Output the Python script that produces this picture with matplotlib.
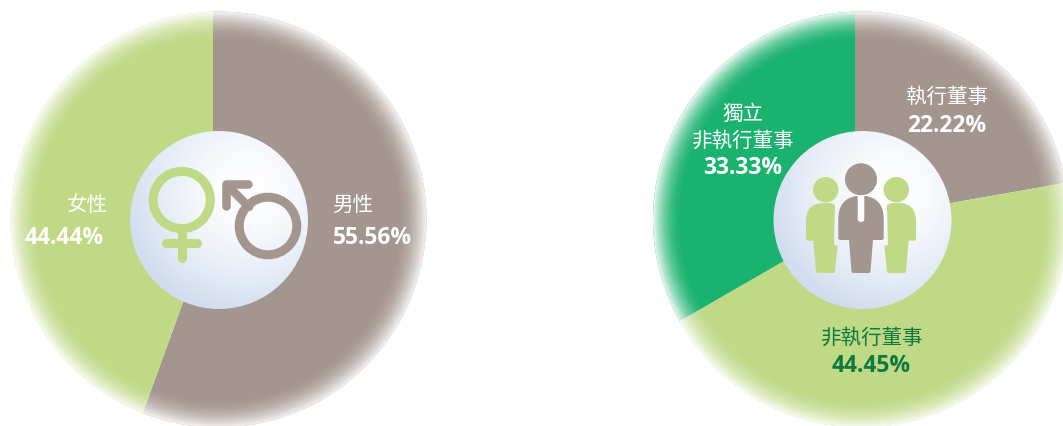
# -*- coding: utf-8 -*-
# 董事會組成: 性別比例 / 董事類別比例 兩個圓餅圖
import numpy as np
import matplotlib
matplotlib.use('Agg')
import matplotlib.pyplot as plt
from matplotlib.patches import Circle, PathPatch
from matplotlib.path import Path

plt.rcParams['font.family'] = ['Noto Sans CJK TC', 'DejaVu Sans']

W, H = 1063, 426

GENDER_LABELS = ['男性', '女性']
GENDER_VALUES = [55.56, 44.44]
ROLE_LABELS = ['執行董事', '非執行董事', '獨立\n非執行董事']
ROLE_VALUES = [22.22, 44.45, 33.33]

GRAY = '#a3968e'
LIGHT = '#bfd985'
GREEN = '#19b26e'
DARK = '#0f7a3f'


def yy(y):
    # 版面以左上角為原點量度, 轉成 axes 座標
    return H - y


fig = plt.figure(figsize=(W / 100, H / 100), dpi=100)
ax = fig.add_axes([0, 0, 1, 1])


def clipped_image(arr, clip):
    im = ax.imshow(arr, extent=(0, W, 0, H), origin='upper', aspect='auto',
                   interpolation='bilinear', zorder=3)
    im.set_clip_path(clip)
    return im


def draw_pie(values, colors, apex, cx, cy, R=208, rim=30):
    # 扇形頂點與外圓圓心略有偏移, 外圓負責裁切
    outline = Circle((cx, yy(cy)), R, transform=ax.transData)
    wedges, _ = ax.pie(values, colors=colors, startangle=90, counterclock=False,
                       center=(apex[0], yy(apex[1])), radius=R + 40, frame=True,
                       wedgeprops=dict(linewidth=0, zorder=2))
    for w in wedges:
        w.set_clip_on(True)
        w.set_clip_path(outline)
    # 外緣向白色漸層
    gx, gy = np.meshgrid(np.arange(W * 2) / 2, np.arange(H * 2) / 2)
    t = np.clip((np.hypot(gx - cx, gy - cy) - (R - rim)) / rim, 0, 1)
    arr = np.ones(gx.shape + (4,))
    arr[..., 3] = 0.9 * t ** 1.9
    clipped_image(arr, outline)


def draw_hub(cx, cy, r=89):
    hub = Circle((cx, yy(cy)), r, transform=ax.transData)
    gx, gy = np.meshgrid(np.arange(W), np.arange(H))
    t = np.clip(np.hypot(gx - (cx + 28), gy - (cy - 30)) / (r * 1.38), 0, 1) ** 1.6
    white = np.array([1.0, 1.0, 1.0])
    blue = np.array([0.82, 0.87, 0.94])
    arr = np.ones(gx.shape + (4,))
    arr[..., :3] = white + (blue - white) * t[..., None]
    clipped_image(arr, hub)


def stroke(xs, ys, color, lw=9):
    ax.plot(xs, [yy(v) for v in ys], color=color, lw=lw * 0.72,
            solid_capstyle='round', solid_joinstyle='round', zorder=5)


def ring(cx, cy, r, color, lw=9):
    ax.add_patch(Circle((cx, yy(cy)), r, fc='none', ec=color, lw=lw * 0.72, zorder=5))


def body(commands, color):
    verts, codes = [], []
    for code, pts in commands:
        for p in pts:
            verts.append((p[0], yy(p[1])))
            codes.append(code)
    verts.append(verts[0])
    codes.append(Path.CLOSEPOLY)
    ax.add_patch(PathPatch(Path(verts, codes), fc=color, ec='none', zorder=5))


M, L, Q = Path.MOVETO, Path.LINETO, Path.CURVE3


def side_person(mirror=None):
    f = (lambda x: x) if mirror is None else (lambda x: 2 * mirror - x)
    ax.add_patch(Circle((f(825.7), yy(189.7)), 12.7, fc=LIGHT, ec='none', zorder=5))
    body([(M, [(f(806), 238.7)]), (L, [(f(806), 221)]),
          (Q, [(f(806), 203), (f(824), 203)]), (L, [(f(830), 203), (f(835), 205), (f(834), 245), (f(837.7), 246), (f(835), 271)]),
          (Q, [(f(834.8), 273), (f(833), 273)]), (L, [(f(818), 273)]),
          (Q, [(f(816), 273), (f(816), 271)]), (L, [(f(813.3), 240.7), (f(808), 240.7)]),
          (Q, [(f(806), 240.7), (f(806), 238.7)])], LIGHT)


def center_person():
    ax.add_patch(Circle((861, yy(179.3)), 16, fc=GRAY, ec='none', zorder=5))
    body([(M, [(838.3, 238)]), (L, [(838.3, 219)]), (Q, [(838.3, 199), (856, 196)]),
          (L, [(866, 196)]), (Q, [(883.7, 199), (883.7, 219)]), (L, [(883.7, 238)]),
          (Q, [(883.7, 240), (881.5, 240)]), (L, [(873, 240), (870.5, 271)]),
          (Q, [(870.3, 273), (868.5, 273)]), (L, [(853.5, 273)]),
          (Q, [(851.7, 273), (851.5, 271)]), (L, [(849, 240), (840.5, 240)]),
          (Q, [(838.3, 240), (838.3, 238)])], GRAY)
    # 領帶
    body([(M, [(857.7, 195.8)]), (L, [(864.3, 195.8), (864.3, 219)]),
          (Q, [(864.3, 222), (861, 222), (857.7, 222), (857.7, 219)])], 'white')


def label(x_name, x_val, y_name, y_val, name, value, color='white'):
    ax.text(x_name, yy(y_name + 2), name, color=color, fontsize=14.8, ha='center', va='center',
            linespacing=1.28, zorder=6)
    ax.text(x_val, yy(y_val + 2.5), f'{value:.2f}%', color=color, fontsize=16.5, fontweight='bold',
            family=['Open Sans', 'DejaVu Sans'], ha='center', va='center', zorder=6)


# 左: 性別
draw_pie(GENDER_VALUES, [GRAY, LIGHT], (213, 220), 218.5, 219.5)
draw_hub(219, 220)
ring(181.7, 200, 28.6, LIGHT)
stroke([182, 182], [233, 258], LIGHT)
stroke([166, 197], [243, 243], LIGHT)
ring(268, 226, 28.8, GRAY)
stroke([248, 226, 226], [184, 184, 206], GRAY, lw=8.5)
stroke([227, 249], [185, 207], GRAY, lw=8.5)
label(353, 373, 203, 235, GENDER_LABELS[0], GENDER_VALUES[0])
label(87, 64, 203, 235, GENDER_LABELS[1], GENDER_VALUES[1])

# 右: 董事類別
draw_pie(ROLE_VALUES, [GRAY, LIGHT, GREEN], (855, 220), 861, 219.5)
draw_hub(862.5, 220)
side_person()
side_person(mirror=861)
center_person()
label(947, 947, 95, 123, ROLE_LABELS[0], ROLE_VALUES[0])
label(872, 871, 336, 364, ROLE_LABELS[1], ROLE_VALUES[1], color=DARK)
label(743, 743, 125.5, 165, ROLE_LABELS[2], ROLE_VALUES[2])

ax.set_xlim(0, W)
ax.set_ylim(0, H)
ax.axis('off')
fig.savefig('out.png', dpi=100, facecolor='white')
